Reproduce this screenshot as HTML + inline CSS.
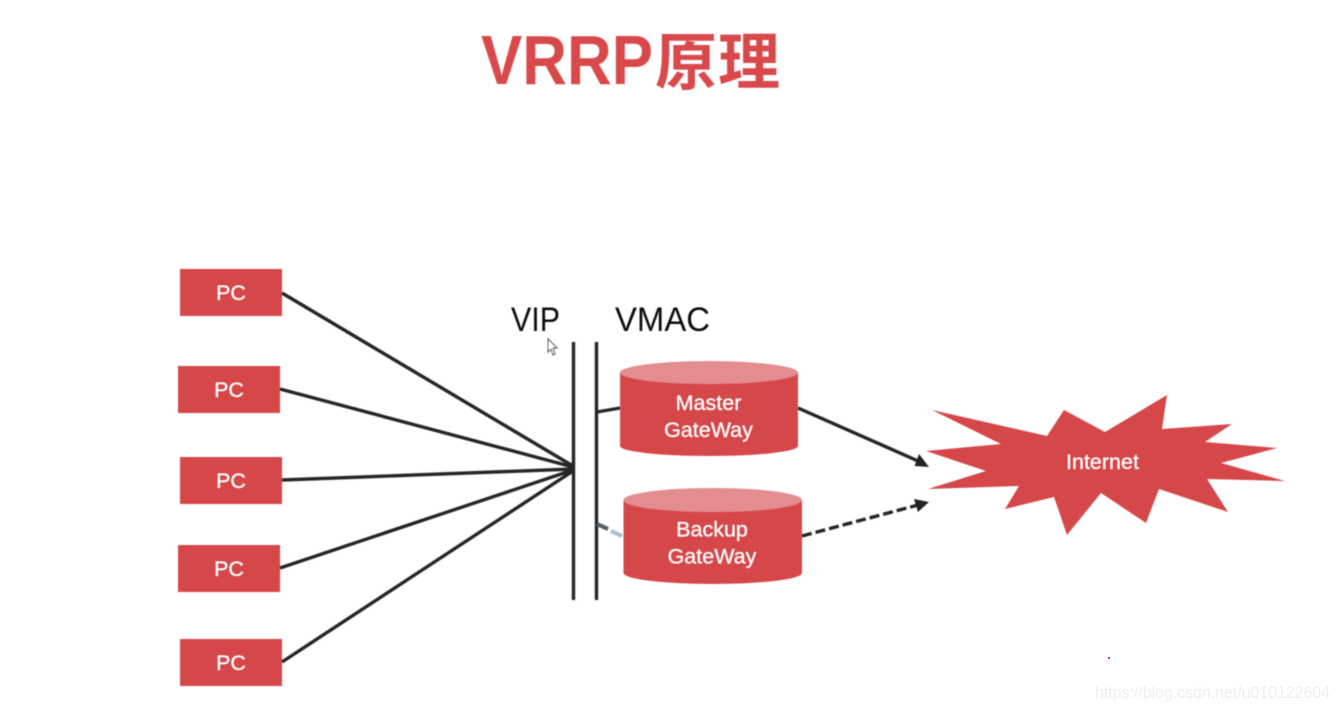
<!DOCTYPE html>
<html>
<head>
<meta charset="utf-8">
<style>
html,body{margin:0;padding:0;background:#fff;}
svg{display:block;}
text{font-family:"Liberation Sans","Noto Sans CJK SC",sans-serif;}
</style>
</head>
<body>
<svg width="1339" height="710" viewBox="0 0 1339 710" xmlns="http://www.w3.org/2000/svg">
<defs>
<filter id="b" x="-5%" y="-5%" width="110%" height="110%"><feGaussianBlur stdDeviation="0.45"/></filter>
</defs>
<rect width="1339" height="710" fill="#fff"/>
<g filter="url(#b)">
<text x="481" y="84" font-size="70" font-weight="700" fill="#d9484b" textLength="172" lengthAdjust="spacingAndGlyphs">VRRP</text>
<text x="655" y="84" font-size="62" font-weight="700" fill="#d9484b" textLength="125" lengthAdjust="spacing">原理</text>

<g fill="#d6474a">
<rect x="180" y="269" width="102" height="47"/>
<rect x="178" y="366" width="102" height="47"/>
<rect x="180" y="457" width="102" height="47"/>
<rect x="178" y="545" width="102" height="47"/>
<rect x="180" y="639" width="102" height="47"/>
</g>
<g fill="#fff" font-size="21.5" text-anchor="middle">
<text x="231" y="300">PC</text>
<text x="229" y="397">PC</text>
<text x="231" y="488">PC</text>
<text x="229" y="576">PC</text>
<text x="231" y="670">PC</text>
</g>

<g stroke="#262626" stroke-width="3.4" fill="none">
<line x1="282" y1="293" x2="573" y2="466"/>
<line x1="280" y1="389" x2="573" y2="467"/>
<line x1="282" y1="480" x2="573" y2="469"/>
<line x1="280" y1="568" x2="573" y2="470"/>
<line x1="282" y1="662" x2="573" y2="471"/>
<line x1="573.5" y1="342" x2="573.500" y2="600"/>
<line x1="596.5" y1="342" x2="596.500" y2="600"/>
<line x1="597" y1="412" x2="620" y2="408"/>
<line x1="798" y1="408" x2="918" y2="461"/>
</g>
<polygon points="929,467 914.500,466 919,454" fill="#222"/>
<line x1="802" y1="536" x2="918" y2="505" stroke="#262626" stroke-width="3.4" stroke-dasharray="10 4"/>
<polygon points="929,502 914,499 918,512" fill="#222"/>
<line x1="597" y1="524" x2="608" y2="529" stroke="#55606c" stroke-width="4"/>
<line x1="611" y1="531" x2="622" y2="536" stroke="#a9c0d6" stroke-width="4"/>

<text x="511" y="331" font-size="34" fill="#111" textLength="49" lengthAdjust="spacingAndGlyphs">VIP</text>
<text x="615" y="331" font-size="34" fill="#111" textLength="95" lengthAdjust="spacingAndGlyphs">VMAC</text>

<path d="M548,339 L548,352 L551,349 L553,355 L555,354 L553,348 L557,348 Z" fill="#fff" stroke="#444" stroke-width="1"/>

<path d="M620,372.500 V446 A89,10 0 0 0 798,446 V372.500 Z" fill="#d6474a"/>
<ellipse cx="709" cy="372.500" rx="89" ry="11.500" fill="#e38d90"/>
<path d="M623.500,500 V573 A89.250,11 0 0 0 802,573 V500 Z" fill="#d6474a"/>
<ellipse cx="712.750" cy="500" rx="89.250" ry="12" fill="#e38d90"/>
<g fill="#fff" font-size="21.5" text-anchor="middle">
<text x="708.500" y="410">Master</text>
<text x="708.500" y="437">GateWay</text>
<text x="712" y="536.500">Backup</text>
<text x="712" y="563.500">GateWay</text>
</g>

<polygon fill="#d6474a" points="932,410 1047,436 1064,410 1105,432 1167,395 1162,429 1232,424 1205,442 1277,448 1221,463 1285,481 1207,479 1228,512 1159,489 1146,523 1101,493 1067,535 1054,497 1005,509 1019,486 928,489 986,471 926,451 1001,444"/>
<text x="1102.500" y="469" font-size="21.500" fill="#fff" text-anchor="middle">Internet</text>
</g>

<rect x="1108" y="657" width="2" height="2" fill="#e8383c"/>
<text x="1095" y="698" font-size="16.500" fill="#eeeeee" textLength="235" lengthAdjust="spacingAndGlyphs">https://blog.csdn.net/u010122604</text>
</svg>
</body>
</html>
